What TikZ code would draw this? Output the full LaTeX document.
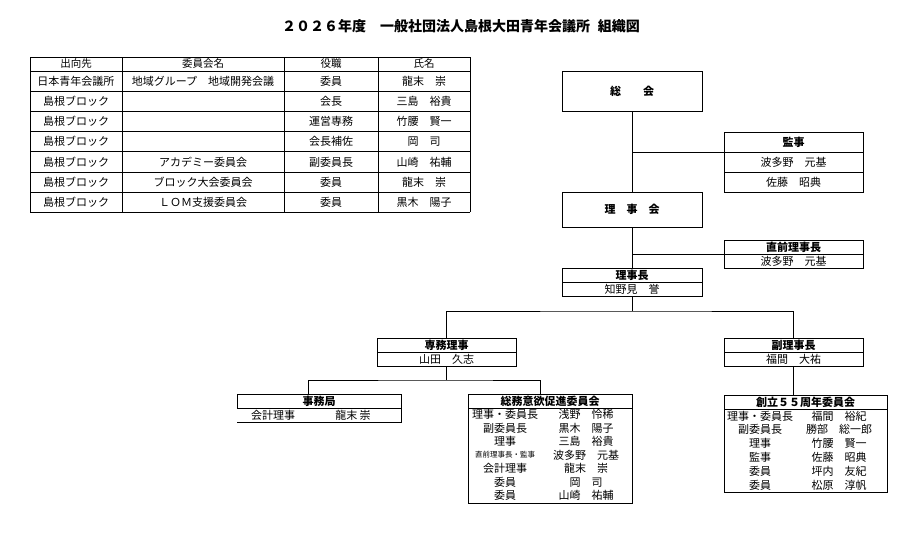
\documentclass[tikz,border=0pt]{standalone}
\usepackage{fontspec}
\setmainfont{Noto Sans CJK JP}
\begin{document}
\begin{tikzpicture}[x=1pt,y=-1pt,
  ln/.style={line width=0.9pt},
  tl/.style={line width=0.8pt},
  box/.style={draw, line width=0.9pt, inner sep=0pt, outer sep=0pt, anchor=north west},
  nobox/.style={inner sep=0pt, outer sep=0pt, anchor=north west},
  hd/.style={font=\fontsize{11}{12}\selectfont\bfseries},
  tx/.style={font=\fontsize{11}{12}\selectfont},
  tt/.style={font=\fontsize{11}{12}\selectfont, inner sep=0pt},
  th/.style={font=\fontsize{10.5}{12}\selectfont, inner sep=0pt},
  sm/.style={font=\fontsize{7.5}{8}\selectfont, inner sep=0pt}
]
\fill[white] (0,0) rectangle (914,536);
\useasboundingbox (0,0) rectangle (914,536);

% title
\node[font=\fontsize{14}{16}\selectfont\bfseries, inner sep=0pt] (title) at (461,26) {２０２６年度　一般社団法人島根大田青年会議所\hspace{8pt}組織図};

% table
\foreach \y in {57,71,91.2,111.4,131.6,151.8,172,192.2,212.4} \draw[tl] (30,\y) -- (470,\y);
\foreach \x in {30,122,284,378,470} \draw[tl] (\x,57) -- (\x,212.4);
\node[th] (h1) at (76,64) {出向先};
\node[th] (h2) at (203,64) {委員会名};
\node[th] (h3) at (331,64) {役職};
\node[th] (h4) at (424,64) {氏名};
\foreach \r/\a/\b/\c/\d in {1/日本青年会議所/地域グループ　地域開発会議/委員/龍末　崇,
  2/島根ブロック/{}/会長/三島　裕貴,
  3/島根ブロック/{}/運営専務/竹腰　賢一,
  4/島根ブロック/{}/会長補佐/岡　司,
  5/島根ブロック/アカデミー委員会/副委員長/山崎　祐輔,
  6/島根ブロック/ブロック大会委員会/委員/龍末　崇,
  7/島根ブロック/ＬＯＭ支援委員会/委員/黒木　陽子}{
  \pgfmathsetmacro\yc{71+20.2*(\r-0.5)}
  \node[tt] (t\r a) at (76,\yc) {\a};
  \node[tt] (t\r b) at (203,\yc) {\b};
  \node[tt] (t\r c) at (331,\yc) {\c};
  \node[tt] (t\r d) at (424,\yc) {\d};
}

% 総会
\node[box, hd, minimum width=140pt, minimum height=40pt] (soukai) at (562,71) {総　　会};
% 監事
\node[box, hd, minimum width=139pt, minimum height=20pt] (kanjiH) at (724,132) {監事};
\node[box, tx, minimum width=139pt, minimum height=20pt] (kanji1) at (724,152) {波多野　元基};
\node[box, tx, minimum width=139pt, minimum height=20pt] (kanji2) at (724,172) {佐藤　昭典};
% 理事会
\node[box, hd, minimum width=140pt, minimum height=35pt] (rijikai) at (562,192) {理　事　会};
% 直前理事長
\node[box, hd, minimum width=139pt, minimum height=14pt] (chokuH) at (724,240) {直前理事長};
\node[box, tx, minimum width=139pt, minimum height=14pt] (choku1) at (724,254) {波多野　元基};
% 理事長
\node[box, hd, minimum width=140pt, minimum height=14pt] (rijichoH) at (562,268) {理事長};
\node[box, tx, minimum width=140pt, minimum height=14pt] (rijicho1) at (562,282) {知野見　誉};
% 専務理事
\node[box, hd, minimum width=139pt, minimum height=14pt] (senmuH) at (377,338) {専務理事};
\node[box, tx, minimum width=139pt, minimum height=14pt] (senmu1) at (377,352) {山田　久志};
% 副理事長
\node[box, hd, minimum width=139pt, minimum height=14pt] (fukuH) at (724,338) {副理事長};
\node[box, tx, minimum width=139pt, minimum height=14pt] (fuku1) at (724,352) {福間　大祐};
% 事務局
\node[box, hd, minimum width=164pt, minimum height=14pt] (jimuH) at (237,394) {事務局};
\node[nobox, minimum width=164pt, minimum height=14pt] (jimu1) at (237,408) {};
\draw[ln] (jimu1.north east) -- (jimu1.south east) -- (jimu1.south west);
\node[tt] (jimu1a) at (273,415) {会計理事};
\node[tt] (jimu1b) at (353,415) {龍末 崇};
% 総務意欲促進委員会
\node[box, hd, minimum width=164pt, minimum height=14pt] (soumuH) at (468,394) {総務意欲促進委員会};
\node[box, minimum width=164pt, minimum height=95pt] (soumu) at (468,408) {};
\foreach \k/\a/\b in {0/理事・委員長/浅野　怜稀, 1/副委員長/黒木　陽子, 2/理事/三島　裕貴,
  3/{}/波多野　元基, 4/会計理事/龍末　崇, 5/委員/岡　司, 6/委員/山崎　祐輔}{
  \pgfmathsetmacro\yc{408+6.75+13.5*\k}
  \node[tt] (s\k a) at (505,\yc) {\a};
  \node[tt] (s\k b) at (586,\yc) {\b};
}
\node[sm] (s3x) at (505,455) {直前理事長・監事};
% 創立５５周年委員会
\node[box, hd, minimum width=163pt, minimum height=14pt] (souH) at (724,395) {創立５５周年委員会};
\node[box, minimum width=163pt, minimum height=83pt] (sou) at (724,409) {};
\foreach \k/\a/\b in {0/理事・委員長/福間　裕紀, 1/副委員長/勝部　総一郎, 2/理事/竹腰　賢一,
  3/監事/佐藤　昭典, 4/委員/坪内　友紀, 5/委員/松原　淳帆}{
  \pgfmathsetmacro\yc{409+6.9+13.8*\k}
  \node[tt] (r\k a) at (760,\yc) {\a};
  \node[tt] (r\k b) at (839,\yc) {\b};
}

% connectors
\draw[ln] (soukai.south) -- (rijikai.north);
\draw[ln] (kanjiH.south west) -- (kanjiH.south west -| soukai.south);
\draw[ln] (rijikai.south) -- (rijichoH.north);
\draw[ln] (chokuH.south west) -- (chokuH.south west -| rijikai.south);
\coordinate (j1) at (632,311);
\draw[ln] (rijicho1.south) -- (j1);
\draw[ln] (senmuH.north) |- (j1) -| (fukuH.north);
\coordinate (j2) at (446.5,380);
\coordinate (jimuTop) at (308,394);
\coordinate (soumuTop) at (540,394);
\draw[ln] (senmu1.south) -- (j2);
\draw[ln] (jimuTop) |- (j2) -| (soumuTop);
\draw[ln] (fuku1.south) -- (fuku1.south |- souH.north);
\end{tikzpicture}
\end{document}
